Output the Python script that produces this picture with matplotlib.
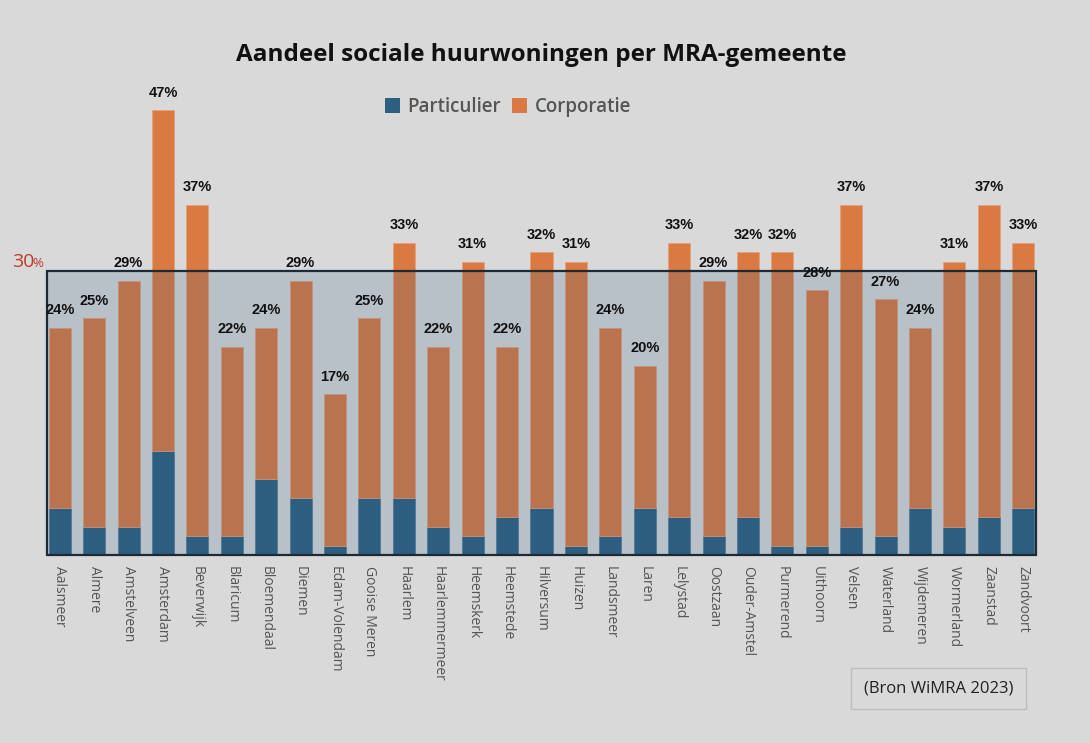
import matplotlib.pyplot as plt
from matplotlib.patches import Patch

gemeenten = ['Aalsmeer', 'Almere', 'Amstelveen', 'Amsterdam', 'Beverwijk', 'Blaricum',
             'Bloemendaal', 'Diemen', 'Edam-Volendam', 'Gooise Meren', 'Haarlem',
             'Haarlemmermeer', 'Heemskerk', 'Heemstede', 'Hilversum', 'Huizen',
             'Landsmeer', 'Laren', 'Lelystad', 'Oostzaan', 'Ouder-Amstel', 'Purmerend',
             'Uithoorn', 'Velsen', 'Waterland', 'Wijdemeren', 'Wormerland', 'Zaanstad',
             'Zandvoort']
totaal = [24, 25, 29, 47, 37, 22, 24, 29, 17, 25, 33, 22, 31, 22, 32, 31, 24, 20, 33,
          29, 32, 32, 28, 37, 27, 24, 31, 37, 33]
particulier = [5, 3, 3, 11, 2, 2, 8, 6, 1, 6, 6, 3, 2, 4, 5, 1, 2, 5, 4, 2, 4, 1, 1,
               3, 2, 5, 3, 4, 5]
corporatie = [t - p for t, p in zip(totaal, particulier)]
grens = 30

bg = '#d9d9d9'
blauw = '#2c5f80'
oranje = '#d97a43'

fig = plt.figure(figsize=(10.9, 7.43), dpi=100, facecolor=bg)
ax = fig.add_axes([47 / 1090, 0.253, (1036 - 47) / 1090, 0.637])
ax.set_facecolor(bg)

x = range(len(gemeenten))
ax.bar(x, particulier, width=0.64, color=blauw, edgecolor='#5a7f99', linewidth=0.6, zorder=2)
ax.bar(x, corporatie, width=0.64, bottom=particulier, color=oranje, edgecolor='#e8a07a',
       linewidth=0.6, zorder=2)

# transparante band tot 30%
ax.axhspan(0, grens, facecolor='#305a7f', alpha=0.19, zorder=3)
ax.axhspan(0, grens, facecolor='none', edgecolor='#1c2a36', linewidth=1.6, zorder=4,
           clip_on=False)

for i, t in enumerate(totaal):
    ax.text(i, t + 1.1, f'{t}%', ha='center', va='bottom', fontsize=10.5, fontweight='bold',
            family='Liberation Sans', color='#111111', zorder=5)

ax.set_xlim(-0.37, 28.37)
ax.set_ylim(0, 50)
ax.set_yticks([])
ax.set_xticks(list(x))
ax.set_xticklabels(gemeenten, rotation=-90, ha='center', va='top', fontsize=10,
                   color='#555555', family='Open Sans')
ax.tick_params(axis='x', length=0, pad=8)
for s in ax.spines.values():
    s.set_visible(False)

tr = ax.get_yaxis_transform()
ax.text(-0.013, grens + 0.05, '30', transform=tr, ha='right', va='bottom',
        fontsize=14, color='#c0392b', family='Open Sans')
ax.text(-0.004, grens + 0.1, '%', transform=tr, ha='right', va='bottom',
        fontsize=9.5, color='#c0392b', family='Open Sans')

fig.text(0.497, 0.926, 'Aandeel sociale huurwoningen per MRA-gemeente', ha='center',
         va='center', fontsize=17.5, fontweight='bold', family='Open Sans', color='#111111')

handles = [Patch(facecolor=blauw, label='Particulier'), Patch(facecolor=oranje, label='Corporatie')]
fig.legend(handles=handles, loc='center', bbox_to_anchor=(0.466, 0.856), ncol=2, frameon=False,
           prop={'family': 'Open Sans', 'size': 13.5, 'weight': 'semibold'}, labelcolor='#555555',
           handlelength=0.8, handleheight=0.8, handletextpad=0.4, columnspacing=0.6)

fig.text(0.861, 0.074, '(Bron WiMRA 2023)', ha='center', va='center', fontsize=12,
         family='Open Sans', color='#222222',
         bbox=dict(boxstyle='square,pad=0.75', facecolor=bg, edgecolor='#bdbdbd'))

fig.savefig('out.png', dpi=100, facecolor=bg)
